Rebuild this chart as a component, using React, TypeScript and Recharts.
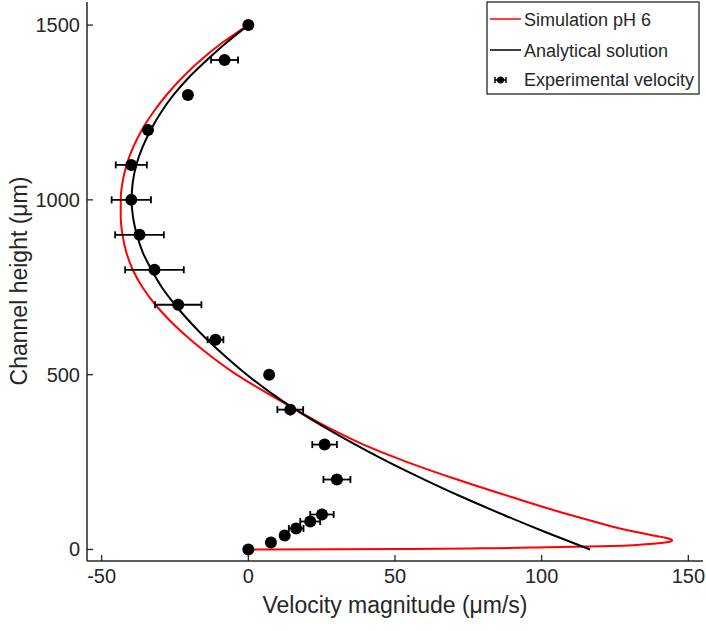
import React from 'react';
import { ComposedChart, Line, Scatter, XAxis, YAxis, ErrorBar } from 'recharts';

// Simulation pH 6 (red) — ordered by channel height
const simulationHeight = [0, 0.6, 1.6, 3.3, 6.4, 10, 13, 16, 19, 22, 25.5, 29, 33, 38, 44, 52, 63, 80, 100, 150, 200, 250, 300, 350, 400, 450, 500, 550, 600, 650, 700, 750, 800, 850, 900, 950, 1000, 1050, 1100, 1150, 1200, 1250, 1300, 1350, 1400, 1450, 1500];
const simulationVelocity = [0, 30, 55, 79, 101.6, 124.3, 132.5, 138, 141.5, 143.6, 144.5, 144.1, 142.5, 139.5, 135.6, 131, 125.3, 117.8, 109.2, 89.7, 71.2, 54.2, 39.3, 27, 16.2, 5.8, -4, -12.3, -19.7, -26.2, -31.7, -36.1, -39.4, -41.6, -42.9, -43.5, -43.5, -42.9, -41.5, -39.3, -36.3, -32.5, -27.9, -22.5, -16.2, -8.8, 0];

// Analytical solution (black)
const analyticalHeight = [0, 50, 100, 150, 200, 250, 300, 350, 400, 450, 500, 550, 600, 650, 700, 750, 800, 850, 900, 950, 1000, 1050, 1100, 1150, 1200, 1250, 1300, 1350, 1400, 1450, 1500];
const analyticalVelocity = [116.5, 101.2, 86.7, 72.9, 60.0, 47.8, 36.5, 25.9, 16.1, 7.3, -0.5, -7.5, -14, -19.8, -25, -29.5, -33, -36, -38, -39.3, -39.8, -39.4, -38.2, -36.1, -33.3, -29.8, -25.5, -20.3, -14.1, -7.4, 0];

// Experimental velocity (dots with horizontal error bars)
const experimentalHeight = [0, 20, 40, 60, 80, 100, 200, 300, 400, 500, 600, 700, 800, 900, 1000, 1100, 1200, 1300, 1400, 1500];
const experimentalVelocity = [0, 7.7, 12.4, 16.3, 21.1, 25.1, 30.2, 26, 14.3, 7.1, -11.2, -23.9, -32, -37.1, -39.9, -39.9, -34.2, -20.6, -8.1, 0];
const experimentalError = [0, 0, 0, 2.5, 3.4, 4, 4.6, 4.2, 4.4, 0, 2.7, 7.9, 10, 8.3, 6.7, 5.3, 1.2, 0, 4.6, 0];

const xTicks = [-50, 0, 50, 100, 150];
const yTicks = [0, 500, 1000, 1500];
const xDomain = [-55, 155];
const yDomain = [-33, 1566];

const legendLabels = ['Simulation pH 6', 'Analytical solution', 'Experimental velocity'];
const xTitle = 'Velocity magnitude (μm/s)';
const yTitle = 'Channel height (μm)';

const simulationData = simulationHeight.map((h, i) => ({ h, v: simulationVelocity[i] }));
const analyticalData = analyticalHeight.map((h, i) => ({ h, v: analyticalVelocity[i] }));
const experimentalData = experimentalHeight.map((h, i) => ({ h, v: experimentalVelocity[i], err: experimentalError[i] }));

const AXIS = '#262626';
const FONT = '"Liberation Sans", Arial, Helvetica, sans-serif';
const TL = 6;

const BottomTick = (props: any) => {
  const { x, y, payload } = props;
  return (
    <g>
      <line x1={x} x2={x} y1={y} y2={y - TL} stroke={AXIS} strokeWidth={1.3} />
      <text x={x} y={y + 15} textAnchor="middle" dominantBaseline="central" fontSize={20} fill={AXIS} fontFamily={FONT}>
        {payload.value}
      </text>
    </g>
  );
};

const TopTick = (props: any) => {
  const { x, y } = props;
  return <line x1={x} x2={x} y1={y} y2={y + TL} stroke={AXIS} strokeWidth={1.3} />;
};

const LeftTick = (props: any) => {
  const { x, y, payload } = props;
  return (
    <g>
      <line x1={x} x2={x + TL} y1={y} y2={y} stroke={AXIS} strokeWidth={1.3} />
      <text x={x - 7} y={y} textAnchor="end" dominantBaseline="central" fontSize={20} fill={AXIS} fontFamily={FONT}>
        {payload.value}
      </text>
    </g>
  );
};

const RightTick = (props: any) => {
  const { x, y } = props;
  return <line x1={x} x2={x - TL} y1={y} y2={y} stroke={AXIS} strokeWidth={1.3} />;
};

const Dot = (props: any) => {
  const { cx, cy } = props;
  if (cx == null || cy == null) return null;
  return <circle cx={cx} cy={cy} r={6} fill="#000" />;
};

export default function App() {
  return (
    <div style={{ position: 'absolute', left: 0, top: 0, width: 706, height: 631, background: '#fff' }}>
      <ComposedChart width={706} height={631} margin={{ top: 2, right: 3, bottom: 0, left: 0 }}>
        <XAxis
          xAxisId="main"
          type="number"
          dataKey="v"
          domain={xDomain}
          allowDataOverflow
          ticks={xTicks}
          interval={0}
          height={70}
          tickSize={0}
          tickMargin={0}
          tickLine={false}
          tick={<BottomTick />}
          axisLine={{ stroke: AXIS, strokeWidth: 1.5 }}
        />
        <XAxis
          xAxisId="top"
          orientation="top"
          type="number"
          dataKey="v"
          domain={xDomain}
          allowDataOverflow
          ticks={xTicks}
          interval={0}
          height={0}
          tickSize={0}
          tickMargin={0}
          tickLine={false}
          tick={<TopTick />}
          axisLine={{ stroke: AXIS, strokeWidth: 1.5 }}
        />
        <YAxis
          yAxisId="main"
          type="number"
          dataKey="h"
          domain={yDomain}
          allowDataOverflow
          ticks={yTicks}
          interval={0}
          width={87}
          tickSize={0}
          tickMargin={0}
          tickLine={false}
          tick={<LeftTick />}
          axisLine={{ stroke: AXIS, strokeWidth: 1.5 }}
        />
        <YAxis
          yAxisId="right"
          orientation="right"
          type="number"
          dataKey="h"
          domain={yDomain}
          allowDataOverflow
          ticks={yTicks}
          interval={0}
          width={0}
          tickSize={0}
          tickMargin={0}
          tickLine={false}
          tick={<RightTick />}
          axisLine={{ stroke: AXIS, strokeWidth: 1.5 }}
        />
        <Line
          xAxisId="main"
          yAxisId="main"
          data={simulationData}
          dataKey="h"
          type="monotoneY"
          stroke="#ff0000"
          strokeWidth={2}
          dot={false}
          activeDot={false}
          isAnimationActive={false}
        />
        <Line
          xAxisId="main"
          yAxisId="main"
          data={analyticalData}
          dataKey="h"
          type="monotoneY"
          stroke="#000000"
          strokeWidth={2}
          dot={false}
          activeDot={false}
          isAnimationActive={false}
        />
        <Scatter
          xAxisId="main"
          yAxisId="main"
          data={experimentalData}
          dataKey="h"
          shape={<Dot />}
          isAnimationActive={false}
        >
          <ErrorBar dataKey="err" direction="x" width={3.5} stroke="#000" strokeWidth={1.8} />
        </Scatter>
      </ComposedChart>
      <svg width={706} height={631} style={{ position: 'absolute', left: 0, top: 0, pointerEvents: 'none' }}>
        <text
          transform="translate(19,281) rotate(-90)"
          textAnchor="middle"
          dominantBaseline="central"
          fontSize={23}
          fill={AXIS}
          fontFamily={FONT}
        >
          {yTitle}
        </text>
        <text x={395} y={605} textAnchor="middle" dominantBaseline="central" fontSize={23} fill={AXIS} fontFamily={FONT}>
          {xTitle}
        </text>
        <rect x={487} y={2} width={212} height={92} fill="#fff" stroke={AXIS} strokeWidth={1.3} />
        <line x1={490} x2={521} y1={19} y2={19} stroke="#ff0000" strokeWidth={1.5} />
        <line x1={490} x2={521} y1={50} y2={50} stroke="#000" strokeWidth={1.5} />
        <line x1={495} x2={506} y1={80} y2={80} stroke="#000" strokeWidth={1.5} />
        <line x1={495} x2={495} y1={77} y2={83} stroke="#000" strokeWidth={1.5} />
        <line x1={506} x2={506} y1={77} y2={83} stroke="#000" strokeWidth={1.5} />
        <circle cx={500.5} cy={80} r={3.5} fill="#000" />
        {legendLabels.map((t, i) => (
          <text key={t} x={524} y={[20, 51, 80][i]} dominantBaseline="central" fontSize={18} fill={AXIS} fontFamily={FONT}>
            {t}
          </text>
        ))}
      </svg>
    </div>
  );
}
